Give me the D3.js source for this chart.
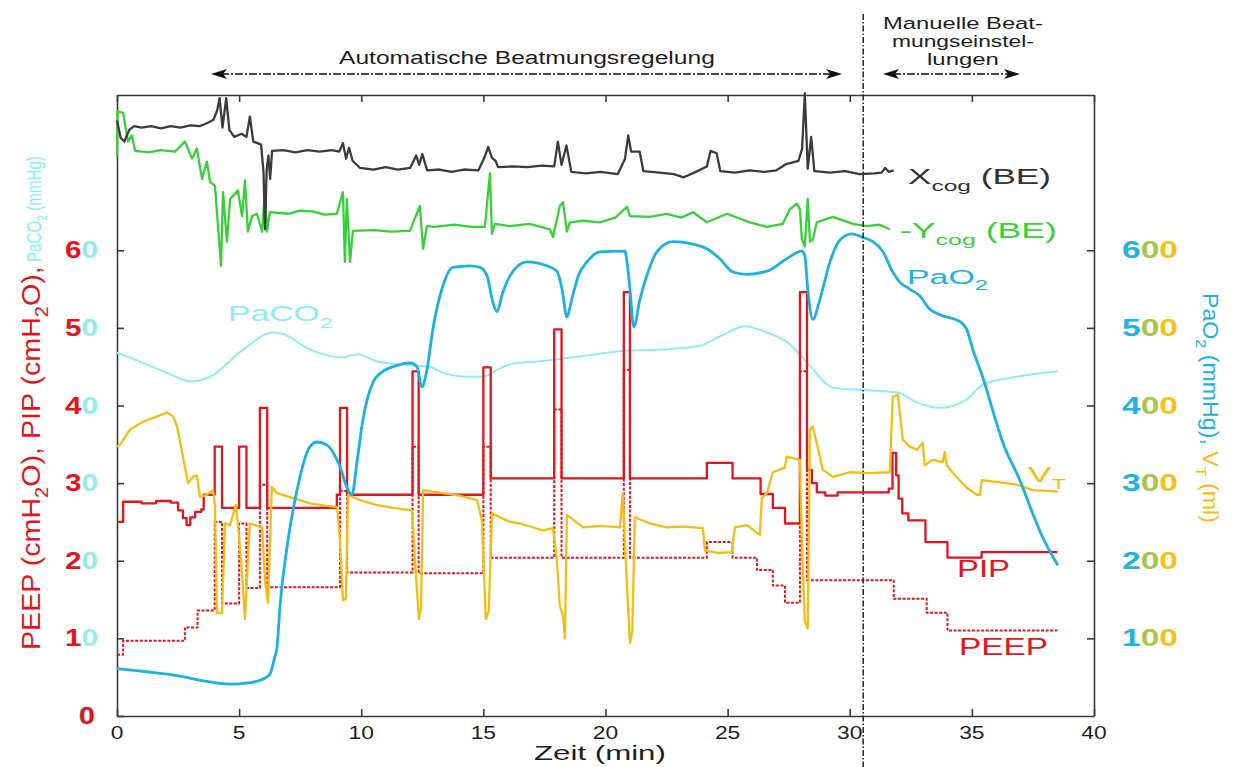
<!DOCTYPE html>
<html><head><meta charset="utf-8">
<script src="https://cdn.jsdelivr.net/npm/d3@7"></script>
<style>body{margin:0;background:#fff}svg{display:block}</style>
</head><body><svg id="c" width="1236" height="767"></svg>
<script>
// ---------------- data ----------------
const timeTicks = [0,5,10,15,20,25,30,35,40];
const leftTicks = [0,10,20,30,40,50,60];
const rightTicks = [100,200,300,400,500,600];

// PaO2 (mmHg, right axis) [min, value]
const paO2 = [[0,61],[1.2,57],[2.46,52],[3.6,45],[4.63,41],[5.44,43],[5.94,47],[6.26,54],[6.45,75],[6.55,88],[6.67,140],[6.96,217],[7.37,291],[7.9,347],[8.19,353],[8.6,349],[9.13,321],[9.46,291],[9.62,285],[9.82,326],[10.07,382],[10.48,430],[10.8,442],[11.3,450],[11.99,455],[12.28,450],[12.48,424],[12.69,446],[12.93,498],[13.34,554],[13.75,578],[14.45,580],[14.86,578],[15.15,567],[15.39,533],[15.55,521],[15.8,546],[16.09,567],[16.78,585],[17.6,580],[18.01,573],[18.22,550],[18.42,514],[18.62,537],[18.9,568],[19.24,585],[19.77,598],[20.79,599],[20.9,580],[21.0,550],[21.16,501],[21.41,537],[21.69,567],[22.1,598],[22.76,611],[23.58,608],[24.15,602],[24.68,589],[25.21,572],[25.79,569],[26.61,573],[27.42,589],[28.04,599],[28.16,593],[28.28,550],[28.49,511],[28.78,537],[29.19,585],[29.59,613],[30.09,621],[30.5,617],[30.95,611],[31.36,598],[31.76,572],[32.05,559],[32.46,550],[32.87,541],[33.28,524],[33.69,517],[34.51,508],[34.79,498],[35.04,472],[35.45,436],[35.86,393],[36.27,352],[36.96,304],[37.49,261],[37.9,230],[38.11,217],[38.52,194]];

// PaCO2 (mmHg, left axis)
const paCO2 = [[0,46.8],[1.06,45.5],[2.05,44.2],[2.99,43.1],[3.81,43.7],[5.16,47.2],[6.39,49.4],[6.79,49.2],[7.9,47.2],[9.25,46.2],[9.82,46.6],[10.64,45.7],[11.46,45.3],[12.81,45.0],[13.34,44.2],[14.45,43.7],[14.98,43.7],[15.55,44.6],[16.09,45.3],[17.31,45.7],[18.95,46.3],[20.59,47.0],[22.23,47.2],[23.86,47.7],[24.68,48.9],[25.71,50.2],[26.52,49.5],[27.55,47.9],[28.37,45.1],[29.31,42.3],[30.54,42.0],[31.93,41.7],[32.75,40.4],[33.69,39.7],[34.79,40.8],[35.45,42.7],[36.84,43.7],[38.52,44.4]];

// PIP (cmH2O, left axis), step values starting at given minute
const pip = [[0,25],[0.25,27.6],[1.0,27.4],[1.6,27.7],[2.2,27.5],[2.5,26.5],[2.7,25.5],[2.85,24.6],[3.0,25.6],[3.2,26.3],[3.45,26.6],[3.55,28.5],[4.0,34.7],[4.3,26.8],[5.0,34.7],[5.3,26.8],[5.85,39.7],[6.15,26.8],[9.0,28.5],[9.13,39.7],[9.42,28.5],[12.1,44.4],[12.35,28.5],[15.0,44.9],[15.3,30.6],[17.9,49.8],[18.2,30.6],[20.75,54.6],[21.0,30.6],[24.15,32.6],[25.2,30.6],[26.35,28.6],[26.85,26.8],[27.35,24.8],[27.96,54.6],[28.25,31.7],[28.45,30.0],[28.65,28.8],[29.0,28.4],[29.5,28.8],[31.6,29.3],[31.75,33.9],[31.9,31.0],[32.0,28.0],[32.15,26.1],[32.4,25.2],[33.1,22.4],[34.0,20.4],[35.4,21.1],[38.5,21.1]];

// PEEP (cmH2O, left axis), step values
const peep = [[0,7.9],[0.25,9.7],[2.78,11.4],[3.3,13.6],[4.0,25.0],[4.3,14.5],[5.0,24.8],[5.3,16.5],[5.85,29.8],[6.15,16.6],[9.13,29.0],[9.42,18.5],[12.1,34.7],[12.35,18.4],[15.0,34.7],[15.3,20.4],[17.9,39.5],[18.2,20.4],[20.75,44.6],[21.0,20.4],[24.15,22.4],[25.2,20.4],[26.2,18.8],[26.85,16.8],[27.35,14.6],[27.96,44.4],[28.25,17.5],[31.8,15.1],[33.15,13.3],[34.0,11.0],[38.5,11.0]];

// VT (ml, right axis)
const vt = [[0,347],[0.12,349],[0.53,369],[1.06,379],[1.64,386],[2.05,391],[2.29,386],[2.46,373],[2.7,334],[2.91,300],[3.11,308],[3.27,310],[3.4,282],[3.68,285],[3.93,291],[4.01,272],[4.09,133],[4.3,133],[4.42,248],[4.63,246],[4.87,272],[4.95,246],[5.08,200],[5.24,125],[5.36,200],[5.44,248],[5.94,243],[6.06,175],[6.18,146],[6.34,295],[6.55,287],[7.08,282],[7.9,274],[8.5,271],[9.01,269],[9.13,226],[9.25,149],[9.37,151],[9.46,285],[9.95,278],[10.6,272],[11.3,268],[12.08,265],[12.2,200],[12.36,125],[12.45,140],[12.53,291],[13.34,287],[14.0,284],[14.74,278],[14.94,252],[15.1,125],[15.22,135],[15.35,261],[16.09,250],[16.5,248],[17.44,239],[17.85,242],[18.01,200],[18.13,142],[18.26,129],[18.34,100],[18.42,259],[19.08,243],[19.8,245],[20.59,243],[20.71,287],[20.83,200],[21.0,94],[21.1,110],[21.2,256],[21.82,248],[22.51,243],[23.2,244],[23.99,242],[24.07,213],[24.6,210],[25.17,211],[25.3,243],[25.79,246],[26.32,233],[26.4,281],[26.61,287],[26.85,314],[27.34,320],[27.42,334],[27.96,330],[28.04,226],[28.16,123],[28.28,113],[28.37,369],[28.49,373],[28.9,317],[29.31,308],[30.0,314],[30.82,313],[31.64,314],[31.76,411],[31.97,414],[32.17,356],[32.46,347],[32.75,343],[32.99,352],[33.07,323],[33.4,330],[33.81,327],[33.89,340],[33.97,323],[34.22,313],[34.79,294],[35.2,285],[35.33,285],[35.41,304],[36.14,301],[36.84,298],[37.49,291],[38.52,289]];

// Xcog (BE) plotted on left scale
const xcog = [[0,76.7],[0.15,74.5],[0.3,74.0],[0.5,75.5],[0.7,76.0],[1.0,75.8],[1.4,76.0],[1.8,75.7],[2.2,76.0],[2.6,75.8],[3.0,76.1],[3.4,76.0],[3.7,76.4],[3.95,76.8],[4.1,78.0],[4.2,79.6],[4.32,75.8],[4.47,79.6],[4.6,75.5],[4.8,74.6],[5.1,75.0],[5.3,74.6],[5.44,77.2],[5.58,74.0],[5.9,73.6],[6.0,70],[6.06,62.7],[6.13,70.5],[6.2,72.2],[6.27,69.2],[6.35,72.8],[6.8,72.9],[7.3,72.6],[7.8,72.9],[8.3,72.7],[8.8,72.9],[9.1,72.7],[9.25,73.8],[9.38,71.8],[9.5,73.2],[9.65,71.5],[9.95,70.6],[10.5,70.4],[11.0,70.7],[11.5,70.4],[12.0,70.6],[12.25,72.2],[12.37,71.0],[12.5,72.4],[12.7,70.3],[13.2,70.4],[13.7,70.1],[14.2,70.4],[14.8,70.3],[15.05,72.0],[15.2,73.3],[15.35,71.9],[15.5,71.5],[15.6,70.7],[16.2,70.8],[16.8,70.7],[17.4,70.9],[17.9,70.8],[18.05,74.0],[18.2,71.0],[18.4,73.5],[18.6,70.1],[19.2,69.9],[19.8,70.1],[20.5,69.8],[20.8,71.8],[20.93,74.8],[21.05,72.7],[21.4,72.7],[21.55,70.2],[22.2,70.0],[22.8,69.8],[23.2,69.4],[23.7,70.1],[24.15,70.8],[24.3,72.8],[24.55,72.5],[24.7,70.2],[25.3,70.0],[25.9,70.3],[26.5,70.1],[27.0,70.3],[27.4,71.1],[27.9,71.5],[28.05,73.1],[28.16,80.2],[28.28,70.5],[28.42,74.6],[28.55,70.2],[29.2,70.0],[29.8,70.2],[30.4,69.8],[31.0,69.9],[31.3,70.0],[31.45,70.6],[31.6,70.1],[31.8,70.3]];

// -Ycog (BE) plotted on left scale
const ycog = [[0,72.1],[0.02,77.9],[0.25,77.7],[0.45,74.0],[0.6,74.8],[0.75,72.8],[1.3,72.6],[1.8,72.9],[2.37,72.7],[2.78,74.0],[3.07,71.8],[3.27,73.1],[3.48,69.2],[3.68,71.4],[3.81,68.8],[4.01,68.3],[4.26,58.0],[4.34,67.5],[4.5,61.1],[4.63,66.6],[4.95,67.7],[5.12,64.4],[5.24,69.0],[5.36,62.4],[5.53,64.4],[5.73,64.7],[5.94,62.4],[6.06,67.9],[6.14,62.4],[6.26,64.9],[7.0,64.7],[7.5,65.1],[8.0,65.0],[8.5,64.6],[9.0,64.7],[9.25,67.5],[9.33,58.5],[9.41,66.6],[9.54,58.5],[9.66,62.5],[10.5,62.6],[11.2,62.4],[11.99,62.5],[12.4,65.7],[12.53,60.2],[12.69,63.1],[13.0,63.0],[13.8,63.3],[14.5,63.0],[15.06,63.0],[15.27,69.9],[15.35,62.1],[15.47,63.4],[16.09,63.1],[16.9,63.4],[17.72,62.7],[17.85,61.7],[18.13,65.7],[18.26,66.2],[18.42,62.4],[18.54,63.6],[19.08,63.8],[19.77,63.6],[20.4,64.2],[20.88,65.6],[21.0,64.4],[21.82,64.3],[22.51,64.7],[23.1,64.2],[23.58,64.9],[24.15,63.6],[24.97,64.7],[25.91,63.6],[26.61,63.0],[27.26,63.4],[27.55,65.3],[27.84,66.0],[27.96,65.3],[28.04,61.4],[28.16,60.5],[28.28,66.6],[28.37,61.1],[28.49,61.4],[28.65,63.6],[29.31,64.3],[30.13,63.4],[30.7,63.1],[31.2,63.3],[31.64,62.7]];

// ---------------- chart ----------------
const FONT = '"Liberation Sans", Arial, Helvetica, sans-serif';
const COL = {red:'#e5131c', blue:'#1cb1e3', cyan:'#8eedf3', yellow:'#f5bd12', green:'#38d038', gray:'#3b3b3b', axis:'#3a3a3a', text:'#1e1e1e'};
const svg = d3.select('#c');
const X  = d3.scaleLinear().domain([0,40]).range([117,1094]);
const YL = d3.scaleLinear().domain([0,80]).range([716,95]);
const YR = d3.scaleLinear().domain([0,800]).range([716,95]);

function label(o){
  const g = svg.append('g');
  const inner = g.append('g');
  const t = inner.append('text').attr('x',0).attr('y',0)
    .style('font-family', o.font || FONT).style('font-size', o.size+'px')
    .style('font-weight', o.weight || 'normal');
  let inSub = false;
  o.parts.forEach(p => {
    const fs = p.fs || o.size;
    const ts = t.append('tspan').text(p.t).attr('fill', p.c || o.color || COL.text);
    if (p.stroke) ts.attr('stroke', p.stroke).attr('stroke-width', 1.6).style('paint-order','stroke');
    if (p.sub){ ts.style('font-size', (fs*0.7)+'px'); if(!inSub) ts.attr('dy', fs*0.3); inSub = true; }
    else { ts.style('font-size', fs+'px'); if(inSub) ts.attr('dy', -fs*0.3); inSub = false; }
  });
  const w = t.node().getBBox().width;
  const k = o.width ? o.width / w : (o.sx || 1);
  const W = w * k;
  const x0 = o.anchor === 'end' ? -W : (o.anchor === 'middle' ? -W/2 : 0);
  inner.attr('transform', `translate(${x0},0) scale(${k},1)`);
  g.attr('transform', `translate(${o.x},${o.y})` + (o.rotate ? ` rotate(${o.rotate})` : ''));
  return g;
}

// axes frame
const axG = svg.append('g');
function styleAxis(g){ g.selectAll('path,line').attr('stroke', COL.axis).attr('stroke-width',1.6); g.selectAll('text').remove(); }
axG.append('g').attr('transform',`translate(0,${YL(0)})`)
  .call(d3.axisBottom(X).tickValues(timeTicks).tickSizeInner(-7).tickSizeOuter(0)).call(styleAxis);
axG.append('g').attr('transform',`translate(0,${YL(80)})`)
  .call(d3.axisTop(X).tickValues(timeTicks).tickSizeInner(-7).tickSizeOuter(0)).call(styleAxis);
axG.append('g').attr('transform',`translate(${X(0)},0)`)
  .call(d3.axisLeft(YL).tickValues(leftTicks).tickSizeInner(-7).tickSizeOuter(0)).call(styleAxis);
axG.append('g').attr('transform',`translate(${X(40)},0)`)
  .call(d3.axisRight(YR).tickValues(rightTicks).tickSizeInner(-7).tickSizeOuter(0)).call(styleAxis);

// series
const plot = svg.append('g').attr('fill','none').attr('stroke-linejoin','round');
plot.append('path').datum(paCO2).attr('d', d3.line().x(d=>X(d[0])).y(d=>YL(d[1])).curve(d3.curveMonotoneX)).attr('stroke',COL.cyan).attr('stroke-width',2);
plot.append('path').datum(peep).attr('d', d3.line().x(d=>X(d[0])).y(d=>YL(d[1])).curve(d3.curveStepAfter)).attr('stroke',COL.red).attr('stroke-width',2).attr('stroke-dasharray','3,1.6');
plot.append('path').datum(pip).attr('d', d3.line().x(d=>X(d[0])).y(d=>YL(d[1])).curve(d3.curveStepAfter)).attr('stroke',COL.red).attr('stroke-width',2.3);
plot.append('path').datum(vt).attr('d', d3.line().x(d=>X(d[0])).y(d=>YR(d[1]))).attr('stroke',COL.yellow).attr('stroke-width',2.3);
plot.append('path').datum(paO2).attr('d', d3.line().x(d=>X(d[0])).y(d=>YR(d[1])).curve(d3.curveMonotoneX)).attr('stroke',COL.blue).attr('stroke-width',2.8);
plot.append('path').datum(ycog).attr('d', d3.line().x(d=>X(d[0])).y(d=>YL(d[1]))).attr('stroke',COL.green).attr('stroke-width',2.3);
plot.append('path').datum(xcog).attr('d', d3.line().x(d=>X(d[0])).y(d=>YL(d[1]))).attr('stroke',COL.gray).attr('stroke-width',2.3);

// phase separator (dash-dot)
svg.append('line').attr('x1',X(30.55)).attr('x2',X(30.55)).attr('y1',14).attr('y2',767)
  .attr('stroke','#222').attr('stroke-width',1.5).attr('stroke-dasharray','6,2,1.5,2');

// double arrows
function dblArrow(x1,x2,y){
  const g = svg.append('g');
  g.append('line').attr('x1',x1+10).attr('x2',x2-10).attr('y1',y).attr('y2',y)
    .attr('stroke','#111').attr('stroke-width',1.6).attr('stroke-dasharray','8,2,2,2');
  g.append('path').attr('d',`M${x1},${y}L${x1+16},${y-5}L${x1+12},${y}L${x1+16},${y+5}Z`).attr('fill','#111');
  g.append('path').attr('d',`M${x2},${y}L${x2-16},${y-5}L${x2-12},${y}L${x2-16},${y+5}Z`).attr('fill','#111');
}
dblArrow(211, 842, 74);
dblArrow(883, 1020, 74);

// annotations
label({x:527, y:64, anchor:'middle', size:19, width:376, parts:[{t:'Automatische Beatmungsregelung'}]});
label({x:963, y:28.5, anchor:'middle', size:17, width:160, parts:[{t:'Manuelle Beat-'}]});
label({x:963, y:46.5, anchor:'middle', size:17, width:142, parts:[{t:'mungseinstel-'}]});
label({x:963, y:64.5, anchor:'middle', size:17, width:72, parts:[{t:'lungen'}]});

// bottom tick labels
timeTicks.forEach(t => label({x:X(t), y:739, anchor:'middle', size:19, sx:1.2, parts:[{t:String(t)}]}));
label({x:600, y:760, anchor:'middle', size:21, width:132, parts:[{t:'Zeit (min)'}]});

// left tick labels (two-coloured)
leftTicks.forEach(v => {
  if (v === 0){
    label({x:95, y:YL(0)+8, anchor:'end', size:23, weight:'bold', width:16,
      parts:[{t:'0', c:COL.red, stroke:COL.cyan}]});
  } else {
    const s = String(v);
    label({x:98, y:YL(v)+8, anchor:'end', size:23, weight:'bold', width:33,
      parts:[{t:s.slice(0,-1), c:COL.red},{t:s.slice(-1), c:COL.cyan}]});
  }
});
// right tick labels (blue -> yellow)
rightTicks.forEach(v => {
  const s = String(v);
  label({x:1122, y:YR(v)+8, anchor:'start', size:23, weight:'bold', width:56,
    parts:[{t:s[0], c:'#22b2e0'},{t:s[1], c:'#a8c64a'},{t:s[2], c:'#f4c216'}]});
});

// axis titles
label({x:40, y:650, rotate:-90, anchor:'start', size:26, width:384, parts:[
  {t:'PEEP (cmH', c:COL.red},{t:'2', c:COL.red, sub:true},{t:'O), PIP (cmH', c:COL.red},{t:'2', c:COL.red, sub:true},{t:'O),', c:COL.red}]});
label({x:41, y:262, rotate:-90, anchor:'start', size:20, width:106, parts:[
  {t:'PaCO', c:COL.cyan},{t:'2', c:COL.cyan, sub:true},{t:' (mmHg)', c:COL.cyan}]});
label({x:1203, y:293, rotate:90, anchor:'start', size:22, width:230, parts:[
  {t:'PaO', c:COL.blue},{t:'2', c:COL.blue, sub:true},{t:' (mmHg), ', c:COL.blue},
  {t:'V', c:COL.yellow},{t:'T', c:COL.yellow, sub:true},{t:' (ml)', c:COL.yellow}]});

// series labels
label({x:908, y:184, size:22, width:143, parts:[{t:'X', c:'#333'},{t:'cog', c:'#333', sub:true},{t:' (BE)', c:'#333'}]});
label({x:900, y:238, size:22, width:157, parts:[{t:'-Y', c:COL.green},{t:'cog', c:COL.green, sub:true},{t:' (BE)', c:COL.green}]});
label({x:907, y:284, size:21, width:81, parts:[{t:'PaO', c:COL.blue},{t:'2', c:COL.blue, sub:true}]});
label({x:228, y:321, size:22, width:105, parts:[{t:'PaCO', c:COL.cyan},{t:'2', c:COL.cyan, sub:true}]});
label({x:1028, y:482, size:22, width:39, parts:[{t:'V', c:COL.yellow},{t:'T', c:COL.yellow, sub:true}]});
label({x:957, y:577, size:23, width:53, parts:[{t:'PIP', c:COL.red}]});
label({x:959, y:655, size:23, width:89, parts:[{t:'PEEP', c:COL.red}]});
</script>
</body></html>
